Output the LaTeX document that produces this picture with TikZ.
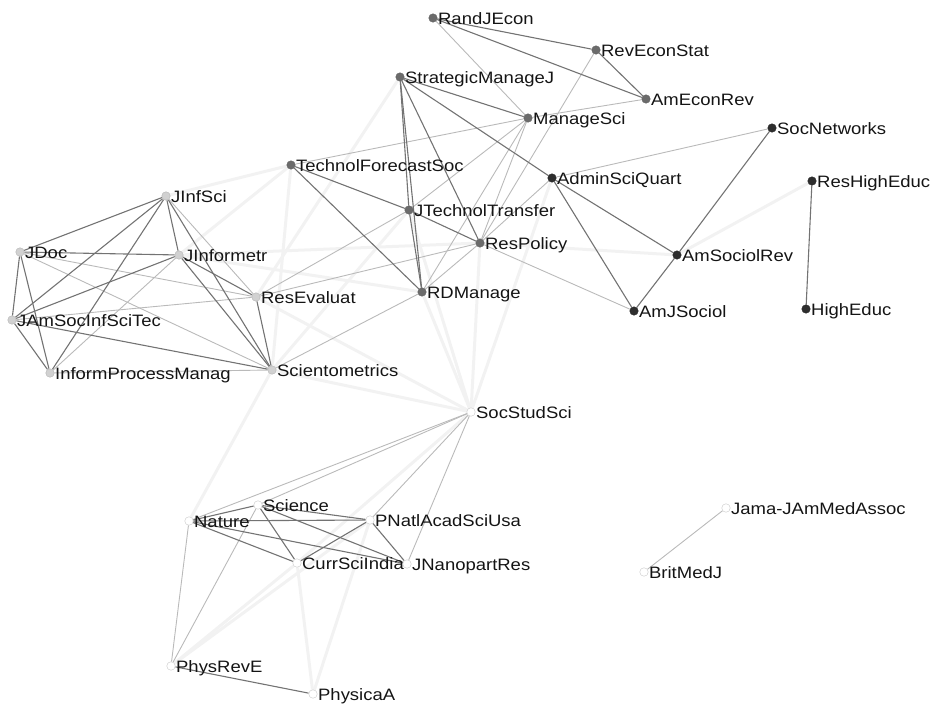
\documentclass[tikz,border=0pt]{standalone}
\usepackage{fontspec}
\setmainfont{Liberation Sans}[FakeStretch=1.12]
\usepackage{tikz}
\usetikzlibrary{backgrounds}

\begin{document}
\begin{tikzpicture}[
  x=1pt, y=-1pt,
  font=\fontsize{16.5}{19}\selectfont,
  dotbase/.style={circle, inner sep=0pt, minimum size=8.5pt},
  mgmt/.style={dotbase, fill=black!58, draw=black!62},
  soc/.style={dotbase, fill=black!82, draw=black!85},
  info/.style={dotbase, fill=black!18, draw=black!30},
  sci/.style={dotbase, fill=white, draw=black!22},
  lbl/.style={inner xsep=0.5pt, inner ysep=1pt, text height=12pt, text depth=0pt, text=black!92},
  strong/.style={draw=black!55, line width=1.1pt},
  weak/.style={draw=black!27, line width=0.9pt},
  faint/.style={draw=black!5, line width=3pt}
]
  \useasboundingbox (0,0) rectangle (935,712);

  % Ekonomija i menadzment
  \node[mgmt] (rje)    at (433,18)  [label={[lbl]right:RandJEcon}] {};
  \node[mgmt] (res)    at (596,50)  [label={[lbl]right:RevEconStat}] {};
  \node[mgmt] (smj)    at (400,77)  [label={[lbl]right:StrategicManageJ}] {};
  \node[mgmt] (aer)    at (646,99)  [label={[lbl]right:AmEconRev}] {};
  \node[mgmt] (msci)   at (528,118) [label={[lbl]right:ManageSci}] {};
  \node[mgmt] (tfs)    at (291,165) [label={[lbl]right:TechnolForecastSoc}] {};
  \node[mgmt] (jtt)    at (409,210) [label={[lbl]right:JTechnolTransfer}] {};
  \node[mgmt] (respol) at (480,243) [label={[lbl]right:ResPolicy}] {};
  \node[mgmt] (rdm)    at (422,292) [label={[lbl]right:RDManage}] {};

  % Sociologija i obrazovanje
  \node[soc] (sn)  at (772,128) [label={[lbl]right:SocNetworks}] {};
  \node[soc] (asq) at (552,178) [label={[lbl]right:AdminSciQuart}] {};
  \node[soc] (rhe) at (812,181) [label={[lbl]right:ResHighEduc}] {};
  \node[soc] (asr) at (677,255) [label={[lbl]right:AmSociolRev}] {};
  \node[soc] (ajs) at (634,311) [label={[lbl]right:AmJSociol}] {};
  \node[soc] (he)  at (806,309) [label={[lbl]right:HighEduc}] {};

  % Informacijske znanosti
  \node[info] (jis)     at (166,196) [label={[lbl]right:JInfSci}] {};
  \node[info] (jdoc)    at (20,252)  [label={[lbl]right:JDoc}] {};
  \node[info] (jinf)    at (179,255) [label={[lbl]right:JInformetr}] {};
  \node[info] (reseval) at (256,297) [label={[lbl]right:ResEvaluat}] {};
  \node[info] (jasis)   at (12,320)  [label={[lbl]right:JAmSocInfSciTec}] {};
  \node[info] (ipm)     at (50,373)  [label={[lbl]right:InformProcessManag}] {};
  \node[info] (scim)    at (272,370) [label={[lbl]right:Scientometrics}] {};

  % Opce znanosti, fizika, medicina
  \node[sci] (ssci) at (471,412) [label={[lbl]right:SocStudSci}] {};
  \node[sci] (scie) at (258,505) [label={[lbl]right:Science}] {};
  \node[sci] (nat)  at (189,521) [label={[lbl]right:Nature}] {};
  \node[sci] (pnas) at (370,520) [label={[lbl]right:PNatlAcadSciUsa}] {};
  \node[sci] (csi)  at (297,563) [label={[lbl]right:CurrSciIndia}] {};
  \node[sci] (jnr)  at (407,564) [label={[lbl]right:JNanopartRes}] {};
  \node[sci] (jama) at (726,508) [label={[lbl]right:Jama-JAmMedAssoc}] {};
  \node[sci] (bmj)  at (644,572) [label={[lbl]right:BritMedJ}] {};
  \node[sci] (pre)  at (171,666) [label={[lbl]right:PhysRevE}] {};
  \node[sci] (pha)  at (313,694) [label={[lbl]right:PhysicaA}] {};

  \begin{scope}[on background layer]
    % Slabe pozadinske veze
    \draw[faint] (scim) -- (ssci);
    \draw[faint] (reseval) -- (ssci);
    \draw[faint] (rdm) -- (ssci);
    \draw[faint] (respol) -- (ssci);
    \draw[faint] (jtt) -- (ssci);
    \draw[faint] (asq) -- (ssci);
    \draw[faint] (tfs) -- (jinf);
    \draw[faint] (tfs) -- (jis);
    \draw[faint] (tfs) -- (scim);
    \draw[faint] (jinf) -- (respol);
    \draw[faint] (jinf) -- (rdm);
    \draw[faint] (scim) -- (jtt);
    \draw[faint] (nat) -- (scim);
    \draw[faint] (pre) -- (pnas);
    \draw[faint] (pre) -- (csi);
    \draw[faint] (pha) -- (csi);
    \draw[faint] (pha) -- (pnas);
    \draw[faint] (csi) -- (ssci);
    \draw[faint] (rhe) -- (asr);
    \draw[faint] (respol) -- (asr);
    \draw[faint] (smj) -- (reseval);

    % Svijetle veze
    \draw[weak] (jis) -- (reseval);
    \draw[weak] (jdoc) -- (reseval);
    \draw[weak] (jdoc) -- (scim);
    \draw[weak] (jinf) -- (ipm);
    \draw[weak] (jasis) -- (reseval);
    \draw[weak] (ipm) -- (scim);
    \draw[weak] (rje) -- (msci);
    \draw[weak] (res) -- (respol);
    \draw[weak] (msci) -- (aer);
    \draw[weak] (msci) -- (tfs);
    \draw[weak] (msci) -- (jtt);
    \draw[weak] (msci) -- (rdm);
    \draw[weak] (msci) -- (respol);
    \draw[weak] (asq) -- (sn);
    \draw[weak] (respol) -- (ajs);
    \draw[weak] (respol) -- (rdm);
    \draw[weak] (respol) -- (asq);
    \draw[weak] (reseval) -- (respol);
    \draw[weak] (reseval) -- (jtt);
    \draw[weak] (scim) -- (rdm);
    \draw[weak] (nat) -- (ssci);
    \draw[weak] (scie) -- (ssci);
    \draw[weak] (pnas) -- (ssci);
    \draw[weak] (jnr) -- (ssci);
    \draw[weak] (pre) -- (nat);
    \draw[weak] (pre) -- (scie);
    \draw[weak] (jama) -- (bmj);

    % Jake veze
    \draw[strong] (jis) -- (jdoc);
    \draw[strong] (jis) -- (jasis);
    \draw[strong] (jis) -- (ipm);
    \draw[strong] (jis) -- (jinf);
    \draw[strong] (jis) -- (scim);
    \draw[strong] (jdoc) -- (jinf);
    \draw[strong] (jdoc) -- (jasis);
    \draw[strong] (jdoc) -- (ipm);
    \draw[strong] (jinf) -- (jasis);
    \draw[strong] (jinf) -- (reseval);
    \draw[strong] (jinf) -- (scim);
    \draw[strong] (jasis) -- (scim);
    \draw[strong] (jasis) -- (ipm);
    \draw[strong] (reseval) -- (scim);

    \draw[strong] (rje) -- (res);
    \draw[strong] (rje) -- (aer);
    \draw[strong] (res) -- (aer);
    \draw[strong] (smj) -- (msci);
    \draw[strong] (smj) -- (asq);
    \draw[strong] (smj) -- (rdm);
    \draw[strong] (smj) -- (jtt);
    \draw[strong] (smj) -- (respol);
    \draw[strong] (tfs) -- (jtt);
    \draw[strong] (tfs) -- (rdm);
    \draw[strong] (jtt) -- (respol);
    \draw[strong] (jtt) -- (rdm);
    \draw[strong] (asq) -- (asr);
    \draw[strong] (asq) -- (ajs);
    \draw[strong] (asr) -- (sn);
    \draw[strong] (asr) -- (ajs);
    \draw[strong] (rhe) -- (he);

    \draw[strong] (nat) -- (scie);
    \draw[strong] (nat) -- (pnas);
    \draw[strong] (nat) -- (csi);
    \draw[strong] (nat) -- (jnr);
    \draw[strong] (scie) -- (pnas);
    \draw[strong] (scie) -- (csi);
    \draw[strong] (scie) -- (jnr);
    \draw[strong] (pnas) -- (csi);
    \draw[strong] (pnas) -- (jnr);
    \draw[strong] (pre) -- (pha);
  \end{scope}
\end{tikzpicture}
\end{document}
